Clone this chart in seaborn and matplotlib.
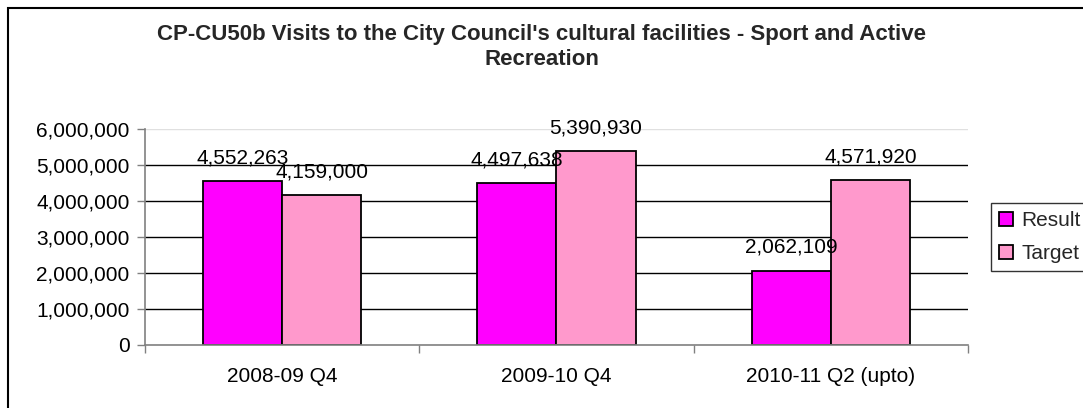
import matplotlib
matplotlib.use("Agg")
import matplotlib.pyplot as plt
import matplotlib.ticker as mticker
from matplotlib.patches import Rectangle
import seaborn as sns
import pandas as pd

categories = ["2008-09 Q4", "2009-10 Q4", "2010-11 Q2 (upto)"]
result_values = [4552263, 4497638, 2062109]
target_values = [4159000, 5390930, 4571920]
series_names = ["Result", "Target"]
title_text = "CP-CU50b Visits to the City Council's cultural facilities - Sport and Active\nRecreation"

df = pd.DataFrame({
    "Period": categories * 2,
    "Series": [series_names[0]] * len(categories) + [series_names[1]] * len(categories),
    "Visits": result_values + target_values,
})

sns.set_theme(style="white")
plt.rcParams["font.family"] = ["Liberation Sans", "DejaVu Sans"]

W, H = 1083, 408
fig = plt.figure(figsize=(W / 100, H / 100), dpi=100)
ax = fig.add_axes([145 / W, (H - 345) / H, (968 - 145) / W, (345 - 129) / H])

sns.barplot(data=df, x="Period", y="Visits", hue="Series",
            palette=["#FF00FF", "#FF99CC"], saturation=1, width=0.577, gap=0,
            edgecolor="black", linewidth=1.3, ax=ax, legend=True,
            err_kws={"linewidth": 0})

ax.set_ylim(0, 6000000)
ax.set_xlim(-0.5, len(categories) - 0.5)
ax.yaxis.set_major_locator(mticker.MultipleLocator(1000000))
ax.yaxis.set_major_formatter(mticker.FuncFormatter(lambda v, p: f"{v:,.0f}"))
ax.set_xlabel("")
ax.set_ylabel("")

# gridlines
ax.set_axisbelow(True)
ax.yaxis.grid(True, color="black", linewidth=1.0)
fig.canvas.draw()
for val, gl in zip(ax.get_yticks(), ax.yaxis.get_gridlines()):
    if val >= 6000000 or val <= 0:
        gl.set_color("#E0E0E0")

for side in ["top", "right"]:
    ax.spines[side].set_visible(False)
for side in ["left", "bottom"]:
    ax.spines[side].set_color("#808080")
    ax.spines[side].set_linewidth(1.2)

ax.tick_params(axis="y", direction="out", length=6, width=1, color="#808080",
               labelsize=15, labelcolor="black", pad=5, left=True)
ax.tick_params(axis="x", which="major", length=0, labelsize=15, pad=16,
               labelcolor="black")
ax.xaxis.set_minor_locator(mticker.FixedLocator([i - 0.5 for i in range(len(categories) + 1)]))
ax.tick_params(axis="x", which="minor", direction="out", length=6, width=1,
               color="#808080", bottom=True)

# data labels
for cont in ax.containers:
    labels = [f"{b.get_height():,.0f}" for b in cont]
    ax.bar_label(cont, labels=labels, padding=10, fontsize=15, color="black")

# legend
handles, labels = ax.get_legend_handles_labels()
if ax.legend_:
    ax.legend_.remove()
leg = fig.legend(handles, labels, loc="upper left",
                 bbox_to_anchor=(991 / W, (H - 203) / H),
                 frameon=True, fancybox=False, shadow=False,
                 fontsize=15, handlelength=0.65, handleheight=0.65,
                 handletextpad=0.4, borderpad=0.4, labelspacing=0.65,
                 borderaxespad=0)
leg.get_frame().set_edgecolor("black")
leg.get_frame().set_linewidth(1.0)

# title
fig.text(0.5, (H - 47) / H, title_text, ha="center", va="center",
         fontsize=16, fontweight="bold", linespacing=1.3)

# chart border
fig.add_artist(Rectangle((8 / W, -0.1), 1.2, (H - 8) / H + 0.1,
                         transform=fig.transFigure, fill=False,
                         edgecolor="black", linewidth=1.5))

fig.savefig("out.png", dpi=100)
